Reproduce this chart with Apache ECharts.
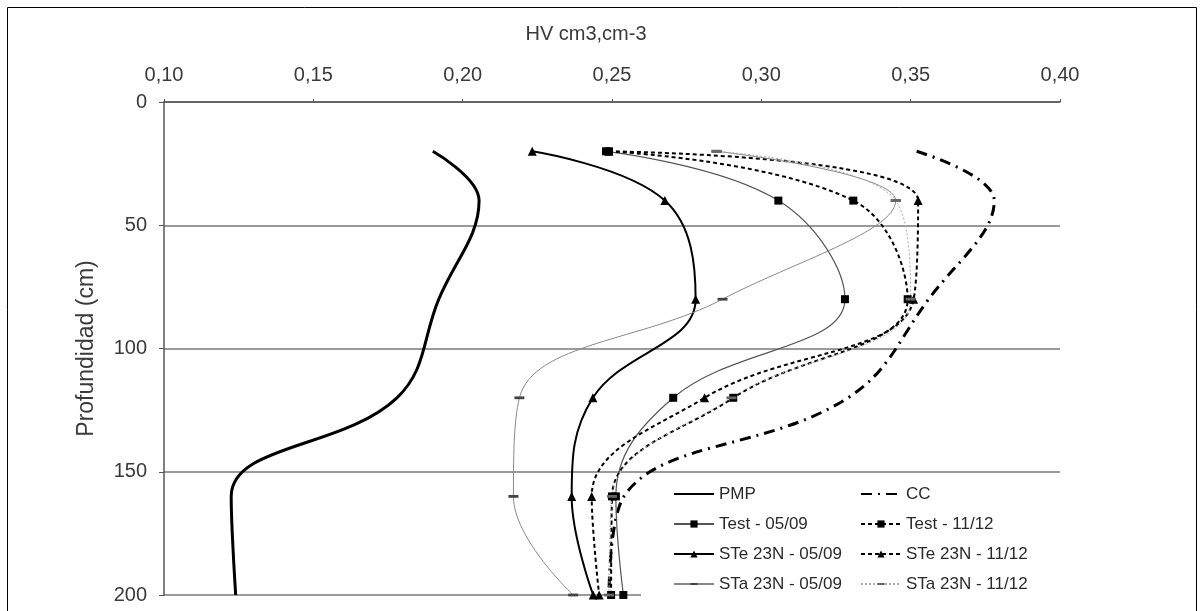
<!DOCTYPE html>
<html>
<head>
<meta charset="utf-8">
<script src="https://cdn.jsdelivr.net/npm/echarts@6/dist/echarts.min.js"></script>
<style>
html,body{margin:0;padding:0;background:#fff;}
#c{width:1204px;height:611px;}
</style>
</head>
<body>
<div id="c"></div>
<script>
// Depths (cm)
const depths = [20, 40, 80, 120, 160, 200];
// HV values (cm3 cm-3) per series
const pmp      = [0.190, 0.2055, 0.192, 0.178, 0.1225, 0.124];
const cc       = [0.352, 0.378, 0.356, 0.329, 0.254, 0.249];
const test0509 = [0.248, 0.3057, 0.328, 0.2705, 0.2513, 0.2538];
const test1112 = [0.249, 0.3308, 0.349, 0.2906, 0.250, 0.2497];
const ste0509  = [0.2233, 0.2677, 0.278, 0.2436, 0.2365, 0.2437];
const ste1112  = [0.249, 0.3525, 0.351, 0.281, 0.2432, 0.2457];
const sta0509  = [0.285, 0.345, 0.287, 0.219, 0.217, 0.237];
const sta1112  = [0.285, 0.345, 0.350, 0.290, 0.250, 0.249];
const xTicks = [0.10, 0.15, 0.20, 0.25, 0.30, 0.35, 0.40];
const yTicks = [0, 50, 100, 150, 200];

const names = ['PMP', 'CC', 'Test - 05/09', 'Test - 11/12',
  'STe 23N - 05/09', 'STe 23N - 11/12', 'STa 23N - 05/09', 'STa 23N - 11/12'];

function pts(vals){ return vals.map((v,i)=>[v, depths[i]]); }

const FONT = '"Liberation Sans", Arial, sans-serif';
const TXT = '#3a3a3a';
// short horizontal dash marker inside a square box
const DASH = 'path://M0,0M0,3.6L10,3.6L10,6.4L0,6.4ZM10,10';

function mk(name, vals, line, sym, symSize, symColor){
  return {
    name: name, type: 'line', data: pts(vals), smooth: 0.4,
    showSymbol: !!sym, symbol: sym || 'none', symbolSize: symSize || 8,
    itemStyle: {color: symColor || '#000'},
    lineStyle: line, emphasis: {disabled: true}
  };
}

const series = [
  mk(names[0], pmp, {color:'#000', width:3, type:'solid'}, null),
  mk(names[1], cc, {color:'#000', width:3, type:[11,6,2,6]}, null),
  mk(names[2], test0509, {color:'#555', width:1.2, type:'solid'}, 'rect', 8),
  mk(names[3], test1112, {color:'#000', width:2, type:[4,3]}, 'rect', 8),
  mk(names[4], ste0509, {color:'#000', width:2, type:'solid'}, 'triangle', 9),
  mk(names[5], ste1112, {color:'#000', width:2, type:[4,3]}, 'triangle', 9),
  mk(names[6], sta0509, {color:'#888', width:1, type:'solid'}, DASH, 10, '#444'),
  mk(names[7], sta1112, {color:'#aaa', width:1, type:[2,2]}, DASH, 10, '#666')
];

const hidden = {color: 'rgba(0,0,0,0)', borderWidth: 0};
const legendCommon = {
  orient: 'vertical', top: 484, itemGap: 10, itemHeight: 9, itemWidth: 40, padding: 0,
  textStyle: {fontFamily: FONT, fontSize: 17, lineHeight: 20, color: '#2a2a2a'},
  selectedMode: false
};

const chart = echarts.init(document.getElementById('c'), null, {renderer:'canvas'});
chart.setOption({
  animation: false,
  backgroundColor: '#fff',
  grid: {left: 164, right: 144, top: 102, bottom: 16},
  xAxis: {
    type: 'value', position: 'top', min: xTicks[0], max: xTicks[xTicks.length-1], interval: 0.05,
    name: 'HV cm3,cm-3', nameLocation: 'middle', nameGap: 58,
    nameTextStyle: {fontFamily: FONT, fontSize: 20, color: TXT, padding: [0, 52, 0, 0]},
    axisLine: {show: true, lineStyle: {color: '#555', width: 1.5}},
    axisTick: {show: true, length: 3, inside: false, lineStyle: {color: '#555'}},
    axisLabel: {fontFamily: FONT, fontSize: 20, color: TXT, margin: 17,
      formatter: v => v.toFixed(2).replace('.', ',')},
    splitLine: {show: false}
  },
  yAxis: {
    type: 'value', inverse: true, min: yTicks[0], max: yTicks[yTicks.length-1], interval: 50,
    name: 'Profundidad (cm)', nameLocation: 'middle', nameGap: 66,
    nameTextStyle: {fontFamily: FONT, fontSize: 23, color: TXT},
    axisLine: {show: true, lineStyle: {color: '#555', width: 1.5}},
    axisTick: {show: true, length: 5, lineStyle: {color: '#555'}},
    axisLabel: {fontFamily: FONT, fontSize: 20, color: TXT, margin: 17},
    splitLine: {show: true, lineStyle: {color: '#9a9a9a', width: 2}}
  },
  legend: [
    Object.assign({left: 673, data: [
      {name: names[0], itemStyle: hidden}, names[2], names[4], names[6]]}, legendCommon),
    Object.assign({left: 860, data: [
      {name: names[1], itemStyle: hidden}, names[3], names[5], names[7]]}, legendCommon)
  ],
  graphic: [
    {type: 'rect', z: 3, shape: {x: 641, y: 480, width: 421, height: 140}, style: {fill: '#fff'}},
    {type: 'rect', z: 10, shape: {x: 7.5, y: 7.5, width: 1189, height: 640}, style: {fill: 'none', stroke: '#000', lineWidth: 1}}
  ],
  series: series
});
</script>
</body>
</html>
